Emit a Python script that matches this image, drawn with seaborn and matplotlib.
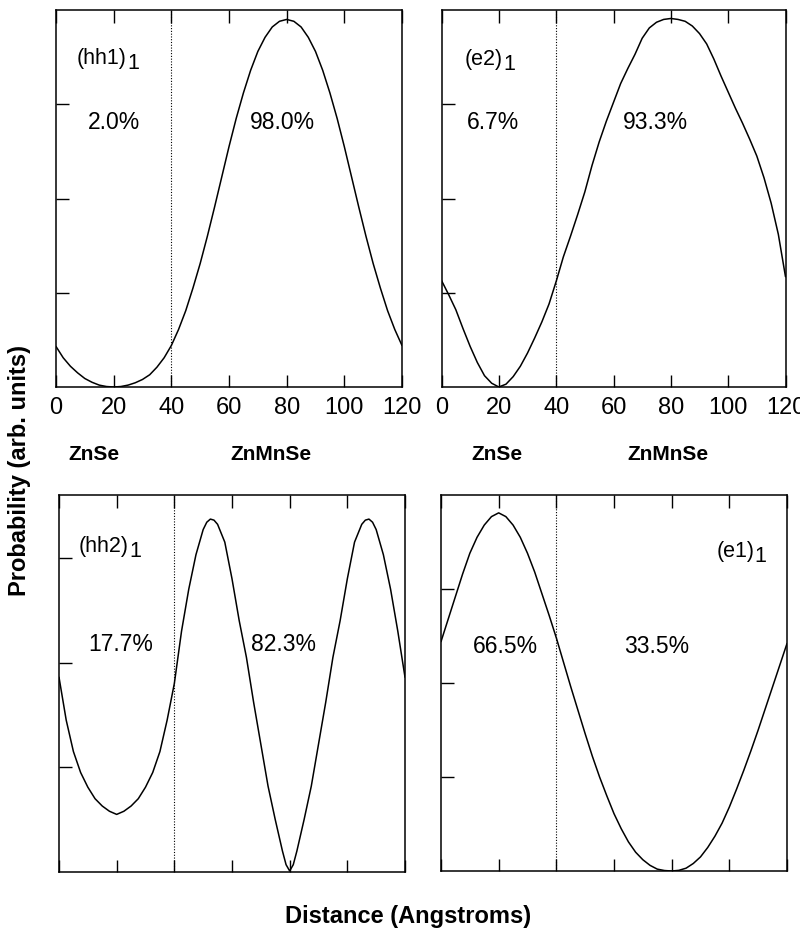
import matplotlib
matplotlib.use('Agg')
import matplotlib.pyplot as plt
import seaborn as sns

sns.set_style('white')
plt.rcParams['font.family'] = ['Liberation Sans', 'DejaVu Sans']
plt.rcParams['text.color'] = 'black'
plt.rcParams['xtick.color'] = 'black'
plt.rcParams['ytick.color'] = 'black'

# distance grid (Angstroms)
x25 = [i * 2.5 for i in range(49)]
x_hh2 = (x25[:21] + [51.25] + x25[21:22] + [53.75] + x25[22:32] + [78.75]
         + x25[32:33] + [81.25] + x25[33:43] + [106.25] + x25[43:44] + [108.75]
         + x25[44:])

# probability readings (arb. units)
hh1 = [0.43, 0.31, 0.22, 0.15, 0.09, 0.05, 0.02, 0.005, 0.0, 0.005, 0.02, 0.045,
       0.08, 0.13, 0.21, 0.31, 0.44, 0.61, 0.81, 1.05, 1.31, 1.60, 1.91, 2.23,
       2.55, 2.85, 3.12, 3.36, 3.56, 3.71, 3.82, 3.88, 3.90, 3.88, 3.82, 3.71,
       3.56, 3.36, 3.12, 2.85, 2.55, 2.23, 1.91, 1.60, 1.31, 1.05, 0.81, 0.61, 0.44]
e2 = [1.13, 0.98, 0.82, 0.62, 0.43, 0.26, 0.12, 0.04, 0.0, 0.03, 0.11, 0.22,
      0.36, 0.52, 0.69, 0.88, 1.12, 1.38, 1.60, 1.83, 2.07, 2.35, 2.60, 2.82,
      3.02, 3.22, 3.38, 3.53, 3.70, 3.81, 3.87, 3.90, 3.91, 3.90, 3.88, 3.83,
      3.75, 3.64, 3.48, 3.30, 3.13, 2.96, 2.80, 2.63, 2.45, 2.22, 1.95, 1.62, 1.17]
hh2 = [1.86, 1.45, 1.15, 0.95, 0.81, 0.70, 0.63, 0.58, 0.55, 0.58, 0.63, 0.70,
       0.81, 0.95, 1.15, 1.45, 1.80, 2.30, 2.70, 3.03, 3.27, 3.34, 3.37, 3.36,
       3.32, 3.15, 2.80, 2.40, 2.05, 1.62, 1.22, 0.82, 0.50, 0.20, 0.07, 0.01,
       0.07, 0.20, 0.50, 0.82, 1.22, 1.62, 2.05, 2.40, 2.80, 3.15, 3.32, 3.36,
       3.37, 3.34, 3.27, 3.03, 2.70, 2.30, 1.86]
e1 = [2.44, 2.68, 2.92, 3.16, 3.38, 3.55, 3.68, 3.77, 3.81, 3.77, 3.68, 3.55,
      3.38, 3.18, 2.95, 2.72, 2.48, 2.22, 1.96, 1.71, 1.46, 1.22, 1.00, 0.80,
      0.61, 0.45, 0.31, 0.20, 0.12, 0.06, 0.02, 0.005, 0.0, 0.007, 0.03, 0.08,
      0.15, 0.25, 0.37, 0.51, 0.68, 0.87, 1.07, 1.28, 1.50, 1.73, 1.96, 2.19, 2.42]

labels = ['hh1', 'e2', 'hh2', 'e1']
pcts = [('2.0%', '98.0%'), ('6.7%', '93.3%'), ('17.7%', '82.3%'), ('66.5%', '33.5%')]
xticks = [0, 20, 40, 60, 80, 100, 120]

fig = plt.figure(figsize=(8, 9.33), dpi=100)
W, H = 800, 933
boxes = [(56, 387, 346, 377), (441.5, 387, 344, 377),
         (59, 872, 346, 377), (441, 871, 346, 376)]
series = [(x25, hh1, 4.0), (x25, e2, 4.0), (x_hh2, hh2, 3.6), (x25, e1, 4.0)]
# label positions (x, y) in data units
name_pos = [(7.3, 3.49), (8.2, 3.48), (6.9, 3.11), (95.5, 3.40)]
pct_pos = [(20, 78.4, 2.81), (18, 74.8, 2.81), (21.5, 77.7, 2.17), (22.2, 74.9, 2.39)]

for i in range(4):
    l, b, w, h = boxes[i]
    ax = fig.add_axes([l / W, 1 - b / H, w / W, h / H])
    xs, ys, ymax = series[i]
    sns.lineplot(x=xs, y=ys, ax=ax, color='black', lw=1.1)
    ax.axvline(40, color='black', lw=0.8, ls=(0, (1, 1.5)))
    ax.set_xlim(0, 120)
    ax.set_ylim(0, ymax)
    ax.set_xticks(xticks)
    ax.set_yticks([1, 2, 3])
    ax.set_yticklabels([])
    ax.tick_params(axis='x', direction='in', top=True, bottom=True, length=9, width=1,
                   labelsize=17, pad=7)
    ax.tick_params(axis='y', direction='in', left=True, length=9, width=1)
    if i >= 2:
        ax.set_xticklabels([])
    for s in ax.spines.values():
        s.set_color('black')
        s.set_linewidth(1.1)

    nx, ny = name_pos[i]
    t = ax.text(nx, ny, '(%s)' % labels[i], fontsize=15.5, ha='left', va='center')
    ax.annotate('1', xy=(1.0, 0.25), xycoords=t, xytext=(0, 0),
                textcoords='offset points', fontsize=15.5, ha='left', va='center')
    lx, rx, py = pct_pos[i]
    ax.text(lx, py, pcts[i][0], fontsize=16.5, ha='center', va='center')
    ax.text(rx, py, pcts[i][1], fontsize=16.5, ha='center', va='center')

for txt, px in [('ZnSe', 94), ('ZnMnSe', 271), ('ZnSe', 497), ('ZnMnSe', 668)]:
    fig.text(px / W, 1 - 455 / H, txt, fontsize=15, fontweight='bold',
             ha='center', va='center')

fig.text(408 / W, 1 - 916 / H, 'Distance (Angstroms)', fontsize=17,
         fontweight='bold', ha='center', va='center')
fig.text(20 / W, 1 - 471 / H, 'Probability (arb. units)', fontsize=17,
         fontweight='bold', ha='center', va='center', rotation=90)

fig.savefig('out.png', dpi=100)
